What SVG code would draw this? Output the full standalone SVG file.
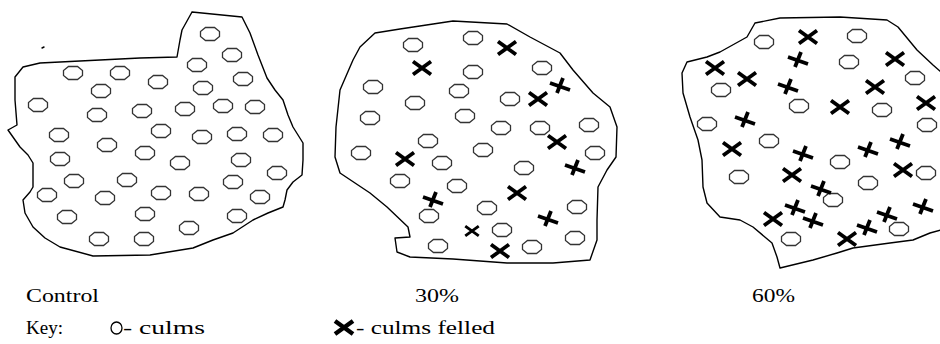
<svg xmlns="http://www.w3.org/2000/svg" xmlns:xlink="http://www.w3.org/1999/xlink" width="940" height="344" viewBox="0 0 940 344">
<style>
.outline{fill:none;stroke:#000;stroke-width:1.4;stroke-linejoin:round;stroke-linecap:round}
.culm{fill:#fff;stroke:#333;stroke-width:1.3}
.felled{fill:none;stroke:#000;stroke-width:3.8;stroke-linecap:butt}
.lbl{font-family:"Liberation Serif","Times New Roman",serif;font-size:18px;fill:#000}
</style>
<defs>
<path id="o" class="culm" d="M-4.5,-6.5 L4.5,-6.5 L9.5,-2.5 L9.5,2.5 L4.5,6.5 L-4.5,6.5 L-9.5,2.5 L-9.5,-2.5 Z"/>
<path id="x" class="felled" d="M-9,-6.5 L9,6.5 M-9,6.5 L9,-6.5"/>
<path id="p" class="felled" d="M-10,-3 L10,4 M-3,7 L3,-8"/>
</defs>
<rect width="940" height="344" fill="#fff"/>

<g id="control">
<path class="outline" d="M192,12 L242,17 L250,33 L258,55 L267,78 L275,90 L283,100 L288,115 L293,127 L303,143 L303,160 L302,175 L293,182 L287,190 L285,200 L283,207 L268,213 L253,220 L233,233 L213,240 L193,248 L150,255 L93,256 L60,247 L45,238 L33,227 L25,213 L23,200 L30,192 L33,187 L33,163 L28,155 L20,147 L8,130 L17,125 L15,100 L15,77 L23,67 L40,63 L100,60 L140,58 L177,57 L180,40 L182,30 L192,12"/>
<path class="outline" d="M42,48 L44,47"/>
<use href="#o" x="210" y="34"/><use href="#o" x="232" y="55"/><use href="#o" x="197" y="65"/><use href="#o" x="243" y="79"/>
<use href="#o" x="73" y="73"/><use href="#o" x="120" y="73"/><use href="#o" x="158" y="82"/><use href="#o" x="203" y="88"/>
<use href="#o" x="101" y="91"/><use href="#o" x="38" y="105"/><use href="#o" x="97" y="115"/><use href="#o" x="142" y="111"/>
<use href="#o" x="185" y="109"/><use href="#o" x="223" y="106"/><use href="#o" x="255" y="107"/><use href="#o" x="59" y="135"/>
<use href="#o" x="161" y="131"/><use href="#o" x="202" y="137"/><use href="#o" x="237" y="134"/><use href="#o" x="273" y="135"/>
<use href="#o" x="107" y="145"/><use href="#o" x="145" y="153"/><use href="#o" x="60" y="159"/><use href="#o" x="180" y="163"/>
<use href="#o" x="241" y="160"/><use href="#o" x="74" y="181"/><use href="#o" x="127" y="180"/><use href="#o" x="233" y="182"/>
<use href="#o" x="277" y="173"/><use href="#o" x="47" y="195"/><use href="#o" x="105" y="198"/><use href="#o" x="161" y="193"/>
<use href="#o" x="199" y="194"/><use href="#o" x="260" y="197"/><use href="#o" x="67" y="217"/><use href="#o" x="145" y="214"/>
<use href="#o" x="237" y="216"/><use href="#o" x="189" y="228"/><use href="#o" x="99" y="239"/><use href="#o" x="144" y="239"/>
</g>

<g id="thirty">
<path class="outline" d="M375,33 L400,29 L453,21 L507,24 L530,37 L560,53 L573,70 L593,93 L610,107 L617,127 L616,157 L607,170 L598,187 L597,220 L597,240 L590,260 L553,263 L507,263 L453,259 L410,257 L397,252 L395,238 L410,237 L408,227 L387,207 L370,193 L355,183 L340,173 L335,157 L336,127 L340,90 L353,60 L360,47 L375,33"/>
<use href="#o" x="413" y="45"/><use href="#o" x="473" y="38"/><use href="#o" x="473" y="72"/><use href="#o" x="542" y="68"/>
<use href="#o" x="373" y="87"/><use href="#o" x="459" y="91"/><use href="#o" x="415" y="103"/><use href="#o" x="510" y="99"/>
<use href="#o" x="370" y="118"/><use href="#o" x="465" y="116"/><use href="#o" x="501" y="128"/><use href="#o" x="540" y="128"/>
<use href="#o" x="589" y="125"/><use href="#o" x="428" y="141"/><use href="#o" x="483" y="150"/><use href="#o" x="595" y="153"/>
<use href="#o" x="361" y="153"/><use href="#o" x="442" y="163"/><use href="#o" x="524" y="168"/><use href="#o" x="400" y="181"/>
<use href="#o" x="457" y="186"/><use href="#o" x="487" y="208"/><use href="#o" x="577" y="207"/><use href="#o" x="429" y="216"/>
<use href="#o" x="502" y="230"/><use href="#o" x="438" y="246"/><use href="#o" x="532" y="247"/><use href="#o" x="575" y="238"/>
<use href="#x" x="507" y="48"/><use href="#x" x="422" y="68"/><use href="#p" x="560" y="86"/><use href="#x" x="538" y="99"/>
<use href="#x" x="557" y="142"/><use href="#x" x="405" y="159"/><use href="#p" x="575" y="168"/><use href="#x" x="517" y="193"/>
<use href="#p" x="433" y="200"/><use href="#p" x="548" y="219"/><use href="#x" x="472" y="231" transform="translate(472 231) scale(0.75) translate(-472 -231)"/><use href="#x" x="500" y="251"/>
</g>

<g id="sixty">
<path class="outline" d="M755,23 L780,18 L840,17 L887,20 L898,27 L917,50 L933,65 L941,72 M941,230 L930,233 L913,240 L890,243 L853,248 L837,253 L813,260 L780,268 L777,257 L772,243 L753,227 L740,220 L720,217 L707,203 L703,187 L702,160 L698,140 L690,117 L683,93 L682,73 L687,62 L707,57 L720,52 L747,37 L755,23"/>
<use href="#o" x="764" y="42"/><use href="#o" x="857" y="36"/><use href="#o" x="849" y="62"/><use href="#o" x="915" y="78"/>
<use href="#o" x="721" y="90"/><use href="#o" x="799" y="106"/><use href="#o" x="882" y="110"/><use href="#o" x="707" y="124"/>
<use href="#o" x="927" y="125"/><use href="#o" x="769" y="141"/><use href="#o" x="840" y="162"/><use href="#o" x="739" y="177"/>
<use href="#o" x="868" y="183"/><use href="#o" x="926" y="173"/><use href="#o" x="833" y="200"/><use href="#o" x="899" y="229"/>
<use href="#o" x="791" y="239"/>
<use href="#x" x="808" y="37"/><use href="#p" x="798" y="60"/><use href="#x" x="895" y="59"/><use href="#x" x="715" y="68"/>
<use href="#x" x="747" y="79"/><use href="#p" x="788" y="87"/><use href="#x" x="875" y="87"/><use href="#x" x="840" y="107"/>
<use href="#x" x="926" y="103"/><use href="#p" x="745" y="120"/><use href="#x" x="732" y="149"/><use href="#p" x="803" y="154"/>
<use href="#p" x="868" y="150"/><use href="#p" x="900" y="142"/><use href="#x" x="792" y="175"/><use href="#x" x="903" y="170"/>
<use href="#p" x="821" y="189"/><use href="#p" x="795" y="208"/><use href="#x" x="773" y="219"/><use href="#p" x="813" y="221"/>
<use href="#p" x="887" y="215"/><use href="#p" x="923" y="207"/><use href="#p" x="867" y="228"/><use href="#x" x="847" y="239"/>
</g>

<g id="labels">
<text class="lbl" x="26" y="302" textLength="73" lengthAdjust="spacingAndGlyphs">Control</text>
<text class="lbl" x="415" y="302" textLength="44" lengthAdjust="spacingAndGlyphs">30%</text>
<text class="lbl" x="752" y="302" textLength="43" lengthAdjust="spacingAndGlyphs">60%</text>
</g>

<g id="key">
<text class="lbl" x="26" y="334" textLength="37" lengthAdjust="spacingAndGlyphs">Key:</text>
<ellipse cx="116.5" cy="328" rx="5.5" ry="6" fill="none" stroke="#000" stroke-width="1.3"/>
<text class="lbl" x="123" y="334" textLength="82" lengthAdjust="spacingAndGlyphs">- culms</text>
<path d="M335,321 L353,334 M335,334 L353,321" fill="none" stroke="#000" stroke-width="4.4"/>
<text class="lbl" x="356" y="334" textLength="139" lengthAdjust="spacingAndGlyphs">- culms felled</text>
</g>
</svg>
